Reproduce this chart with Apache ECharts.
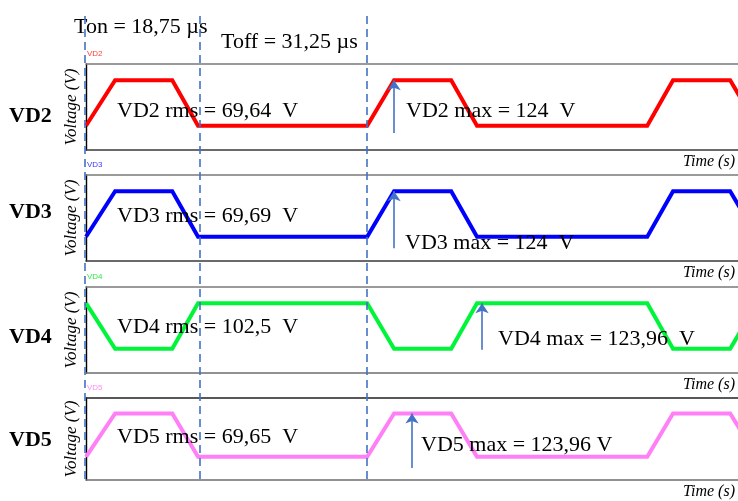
<!DOCTYPE html>
<html>
<head>
<meta charset="utf-8">
<script src="https://cdn.jsdelivr.net/npm/echarts@6/dist/echarts.min.js"></script>
<style>
  html, body { margin: 0; padding: 0; background: #fff; }
  #chart { width: 738px; height: 501px; }
</style>
</head>
<body>
<div id="chart"></div>
<script>
// Switching instants of one trace (µs), shared by all four diodes
const timeUs = [0, 5.2, 15.4, 20.0, 50.2, 55.0, 65.2, 69.8, 100.2, 104.8, 115.0, 119.8];

// Diode voltages (V) at those instants
const vd2 = [0, 124, 124, 0, 0, 124, 124, 0, 0, 124, 124, 0];
const vd3 = [0, 124, 124, 0, 0, 124, 124, 0, 0, 124, 124, 0];
const vd4 = [123.96, 0, 0, 123.96, 123.96, 0, 0, 123.96, 123.96, 0, 0, 123.96];
const vd5 = [0, 123.96, 123.96, 0, 0, 123.96, 123.96, 0, 0, 123.96, 123.96, 0];

const traceNames = ['VD2', 'VD3', 'VD4', 'VD5'];
const traceColors = ['#ff0000', '#0000ff', '#00f53a', '#ff80f6'];
const tagColors = ['#ff3a3a', '#3a3aff', '#33e84a', '#ff8cf5'];
const rmsText = ['69,64', '69,69', '102,5', '69,65'];
const maxValues = [124, 124, 123.96, 123.96];
const maxUnitGap = ['  ', '  ', '  ', ' '];
const arrowTimeUs = [55.0, 55.0, 70.7, 58.2];
const arrowBaseV = [-20, -31, -3, -32];

// Switching markers (µs) and their annotations
const markerTimesUs = [0, 20.4, 50.3];
const tonText = 'Ton = 18,75 µs';
const toffText = 'Toff = 31,25 µs';

const T_MAX = 116.4;
const V_MIN = -66, V_MAX = 168;

const panelTop = [64, 175, 287, 398];
const panelHeight = [86, 86, 86, 82];
const bigLabelY = [116, 212, 337, 440];
const rmsLabelY = [111, 216, 327, 437];
const maxLabelPos = [[406, 111], [405, 243], [498, 339], [421, 445]];

const SERIF = '"Liberation Serif", "Times New Roman", serif';
const SANS = '"Liberation Sans", Arial, sans-serif';
const ARROW = '#4472c4';

const seriesData = [vd2, vd3, vd4, vd5];
const fmt = v => String(v).replace('.', ',');

const grid = [], xAxis = [], yAxis = [], series = [], graphic = [];

traceNames.forEach((name, i) => {
  grid.push({ left: 86, right: 0, top: panelTop[i], height: panelHeight[i] });
  // bottom axis
  xAxis.push({
    type: 'value', gridIndex: i, min: 0, max: T_MAX, position: 'bottom',
    axisLine: { show: true, onZero: false, lineStyle: { color: i >= 2 ? '#6e6e6e' : '#3a3a3a', width: 1.6 } },
    axisTick: { show: false }, axisLabel: { show: false }, splitLine: { show: false }
  });
  // top border
  xAxis.push({
    type: 'value', gridIndex: i, min: 0, max: T_MAX, position: 'top',
    axisLine: { show: true, onZero: false, lineStyle: { color: i === 3 ? '#222' : '#7a7a7a', width: 1.6 } },
    axisTick: { show: false }, axisLabel: { show: false }, splitLine: { show: false }
  });
  yAxis.push({
    type: 'value', gridIndex: i, min: V_MIN, max: V_MAX,
    axisLine: { show: true, onZero: false, lineStyle: { color: '#000', width: 1.4 } },
    axisTick: { show: false }, axisLabel: { show: false }, splitLine: { show: false },
    name: 'Voltage (V)', nameLocation: 'middle', nameRotate: 90, nameGap: 6,
    nameTextStyle: { fontFamily: SERIF, fontStyle: 'italic', fontSize: 17, color: '#000' }
  });
  series.push({
    type: 'line', xAxisIndex: i * 2, yAxisIndex: i, showSymbol: false, symbol: 'none',
    data: timeUs.map((t, k) => [t, seriesData[i][k]]),
    lineStyle: { color: traceColors[i], width: 4, join: 'miter' },
    clip: true, silent: true, z: 3,
    markLine: {
      silent: true, symbol: ['none', 'arrow'], symbolSize: 10, precision: 2,
      label: { show: false },
      lineStyle: { color: ARROW, width: 1.6, type: 'solid' },
      data: [[{ coord: [arrowTimeUs[i], arrowBaseV[i]] }, { coord: [arrowTimeUs[i], maxValues[i]] }]]
    }
  });

  // panel texts
  graphic.push({ type: 'text', x: 9, y: bigLabelY[i],
    style: { text: name, font: 'bold 22px ' + SERIF, fill: '#000', verticalAlign: 'middle' } });
  graphic.push({ type: 'text', x: 87, y: panelTop[i] - 10,
    style: { text: name, font: '8px ' + SANS, fill: tagColors[i], verticalAlign: 'middle' } });
  graphic.push({ type: 'text', x: 735, y: panelTop[i] + panelHeight[i] + 12,
    style: { text: 'Time (s)', font: 'italic 16px ' + SERIF, fill: '#000', align: 'right', verticalAlign: 'middle' } });
  graphic.push({ type: 'text', x: 117, y: rmsLabelY[i], z: 10,
    style: { text: name + ' rms = ' + rmsText[i] + '  V', font: '22px ' + SERIF, fill: '#000', verticalAlign: 'middle' } });
  graphic.push({ type: 'text', x: maxLabelPos[i][0], y: maxLabelPos[i][1], z: 10,
    style: { text: name + ' max = ' + fmt(maxValues[i]) + maxUnitGap[i] + 'V', font: '22px ' + SERIF, fill: '#000', verticalAlign: 'middle' } });
});

// overlay grid for the dashed switching markers
grid.push({ left: 85, right: 1, top: 14, bottom: 22 });
xAxis.push({ type: 'value', gridIndex: 4, min: 0, max: T_MAX, show: false });
yAxis.push({ type: 'value', gridIndex: 4, min: 0, max: 1, show: false });
series.push({
  type: 'line', xAxisIndex: 8, yAxisIndex: 4, data: [], silent: true, z: 5,
  markLine: {
    silent: true, symbol: ['none', 'none'], label: { show: false },
    lineStyle: { color: ARROW, width: 1.6, type: [8, 5] },
    data: markerTimesUs.map(t => ({ xAxis: t }))
  }
});

graphic.push({ type: 'text', x: 74, y: 27,
  style: { text: tonText, font: '22px ' + SERIF, fill: '#000', verticalAlign: 'middle' } });
graphic.push({ type: 'text', x: 221, y: 42,
  style: { text: toffText, font: '22px ' + SERIF, fill: '#000', verticalAlign: 'middle' } });

const chart = echarts.init(document.getElementById('chart'), null, { renderer: 'canvas' });
chart.setOption({
  animation: false,
  backgroundColor: '#fff',
  grid, xAxis, yAxis, series, graphic
});
</script>
</body>
</html>
